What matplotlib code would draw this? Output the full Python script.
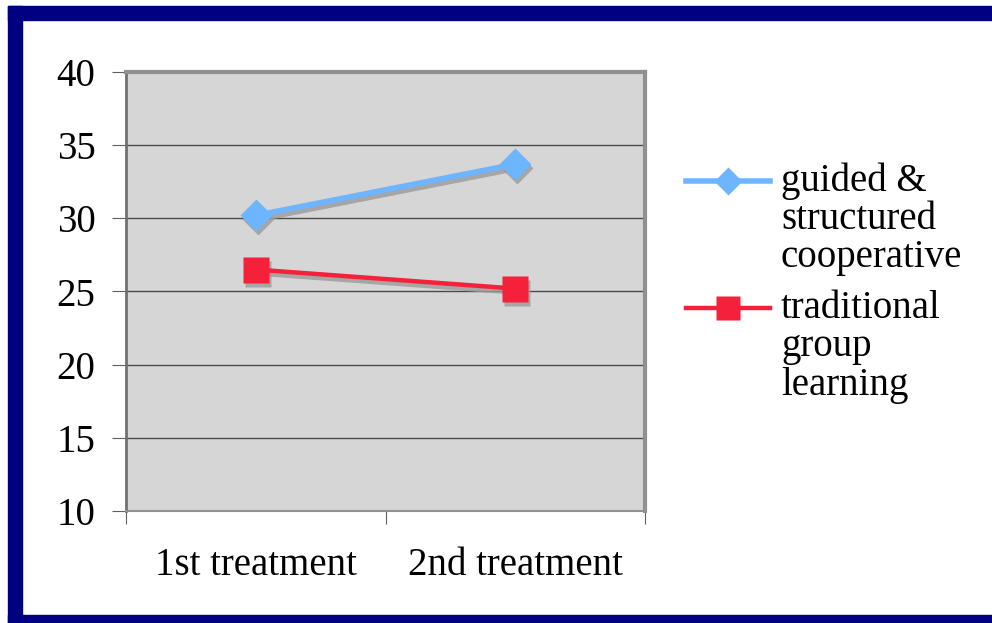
import matplotlib
matplotlib.use('Agg')
import matplotlib.pyplot as plt
from matplotlib.patches import Rectangle
from matplotlib.lines import Line2D
from matplotlib.transforms import offset_copy

plt.rcParams['font.family'] = ['Liberation Serif', 'DejaVu Serif']

# data
categories = ['1st treatment', '2nd treatment']
guided = [30.2, 33.7]
traditional = [26.5, 25.2]
series_names = ['guided &\nstructured\ncooperative', 'traditional\ngroup\nlearning']

W, H = 992, 623
fig = plt.figure(figsize=(W / 100, H / 100), dpi=100)

# navy frame
navy = '#000080'
fig.patches.append(Rectangle((8 / W, (H - 20) / H), (W - 8) / W, 14 / H, transform=fig.transFigure,
                             color=navy, zorder=0))
fig.patches.append(Rectangle((8 / W, 0), 14 / W, (H - 6) / H, transform=fig.transFigure,
                             color=navy, zorder=0))
fig.patches.append(Rectangle((8 / W, 0), (W - 8) / W, 8 / H, transform=fig.transFigure,
                             color=navy, zorder=0))

ax = fig.add_axes([126 / W, (H - 511) / H, (645 - 126) / W, (511 - 72) / H])
ax.set_facecolor('#d6d6d6')

x = list(range(len(categories)))
shadow_tr = offset_copy(ax.transData, fig=fig, x=2, y=-4, units='dots')

styles = [
    dict(color='#6db5ff', lw=4, marker='D', ms=16),
    dict(color='#f5203a', lw=3.2, marker='s', ms=19),
]
for vals, st in zip([guided, traditional], styles):
    ax.plot(x, vals, color='#9a9a9a', lw=st['lw'], marker=st['marker'], ms=st['ms'],
            mec='none', alpha=0.8, transform=shadow_tr, zorder=2)
    ax.plot(x, vals, color=st['color'], lw=st['lw'], marker=st['marker'], ms=st['ms'],
            mec='none', zorder=3)

ax.set_xlim(-0.5, 1.5)
ax.set_ylim(10, 40)
ax.set_yticks(range(10, 41, 5))
ax.yaxis.grid(True, color='#4a4a4a', lw=1)
ax.set_axisbelow(True)

ax.set_xticks([-0.5, 0.5, 1.5])
ax.set_xticklabels([])
ax.set_xticks(x, minor=True)
ax.set_xticklabels(categories, minor=True)
ax.tick_params(axis='x', which='minor', length=0, pad=26, labelsize=28)
ax.tick_params(axis='x', which='major', length=9, color='#606060')
ax.tick_params(axis='y', length=10, color='#606060', labelsize=28, pad=12)

for side in ['top', 'right']:
    ax.spines[side].set_color('#909090')
    ax.spines[side].set_linewidth(3)
ax.spines['left'].set_color('#707070')
ax.spines['left'].set_linewidth(2)
ax.spines['bottom'].set_color('#909090')
ax.spines['bottom'].set_linewidth(1.5)

# legend, drawn by hand so the key sits beside the first text line
leg_tops = [181, 308]
line_gap = 38.5
for name, st, y0 in zip(series_names, styles, leg_tops):
    fy = (H - y0) / H
    fig.add_artist(Line2D([686 / W, 770 / W], [fy, fy], transform=fig.transFigure,
                          color=st['color'], lw=st['lw']))
    fig.add_artist(Line2D([728 / W], [fy], transform=fig.transFigure, color=st['color'],
                          marker=st['marker'], ms=st['ms'] - 2, mec='none', lw=0))
    for k, part in enumerate(name.split('\n')):
        fig.text(781 / W, (H - y0 - k * line_gap) / H, part, fontsize=28, va='center', ha='left')

fig.savefig('out.png', dpi=100, facecolor='white')
